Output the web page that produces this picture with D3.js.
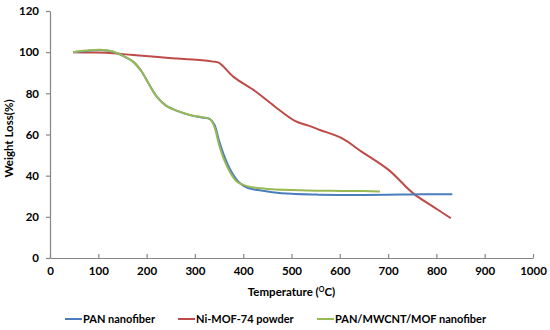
<!DOCTYPE html>
<html>
<head>
<meta charset="utf-8">
<script src="https://cdn.jsdelivr.net/npm/d3@7"></script>
<style>
  body { margin: 0; background: #fff; }
  text { font-family: Lato, "Open Sans", sans-serif; font-weight: bold; fill: #000; }
</style>
</head>
<body>
<script>
// series (temperature °C, weight %)
const panTemp = [48, 75, 103, 130, 150, 172, 190, 200, 221, 241, 262, 290, 315, 331, 340, 350, 360, 373, 385, 395, 410, 430, 460, 500, 550, 600, 650, 700, 750, 800, 833]
const panWeight = [100, 100.6, 101, 100.2, 98.3, 95.4, 90.5, 86.5, 78.4, 73.9, 71.6, 69.4, 68.3, 67.5, 65, 57, 50, 43, 38.5, 36, 34, 33, 32, 31.2, 30.8, 30.6, 30.6, 30.7, 30.9, 31, 31]

const mofTemp = [48, 80, 117, 172, 241, 310, 338, 350, 380, 425, 466, 507, 535, 559, 604, 645, 701, 752, 793, 830]
const mofWeight = [100, 99.8, 99.7, 98.6, 97.3, 96.2, 95.4, 94.8, 88, 81, 73.5, 66.6, 64.3, 62.2, 58.2, 51.7, 42.8, 31.4, 25, 19.3]

const compTemp = [48, 75, 103, 130, 150, 172, 190, 200, 221, 241, 262, 290, 315, 331, 340, 350, 360, 373, 385, 395, 410, 430, 460, 500, 550, 600, 650, 683]
const compWeight = [100, 100.8, 101.2, 100.3, 98.4, 95.4, 90.5, 86.5, 78.4, 73.9, 71.6, 69.5, 68.4, 67.5, 64, 55, 48, 41.5, 37.5, 36, 34.8, 34, 33.4, 33, 32.7, 32.6, 32.5, 32.3]

const seriesNames = ['PAN nanofiber', 'Ni-MOF-74 powder', 'PAN/MWCNT/MOF nanofiber']
const seriesColors = ['#4a7ebb', '#be4b48', '#98b954']
const xTicks = [0, 100, 200, 300, 400, 500, 600, 700, 800, 900, 1000]
const yTicks = [0, 20, 40, 60, 80, 100, 120]

const width = 550
const height = 330
const margin = {left: 50, right: 17, top: 11, bottom: 72}

const svg = d3.select('body').append('svg')
    .attr('width', width)
    .attr('height', height)

const x = d3.scaleLinear().domain([0, 1000]).range([margin.left, width - margin.right])
const y = d3.scaleLinear().domain([0, 120]).range([height - margin.bottom, margin.top])

const zip = (ts, ws) => ts.map((t, i) => ({t: t, w: ws[i]}))
const series = [
    zip(panTemp, panWeight),
    zip(mofTemp, mofWeight),
    zip(compTemp, compWeight)
]

// axes
svg.append('g')
    .attr('transform', `translate(0, ${y(0)})`)
    .call(d3.axisBottom(x).tickValues(xTicks).tickFormat(d3.format('d'))
        .tickSizeInner(-4).tickSizeOuter(0).tickPadding(9))
svg.append('g')
    .attr('transform', `translate(${x(0)}, 0)`)
    .call(d3.axisLeft(y).tickValues(yTicks).tickSizeInner(4).tickSizeOuter(0).tickPadding(7))

svg.selectAll('.domain, .tick line').attr('stroke', '#868686').attr('stroke-width', 1.2)
svg.selectAll('.tick text').attr('font-size', 11.5).attr('fill', '#000')
    .style('font-family', 'Lato, sans-serif').style('font-weight', 'bold')

// lines
const line = d3.line()
    .x(d => x(d.t))
    .y(d => y(d.w))
    .curve(d3.curveCatmullRom.alpha(0.5))

// draw in order: red, blue, green on top
const order = [1, 0, 2]
order.forEach(i => {
    svg.append('path')
        .datum(series[i])
        .attr('fill', 'none')
        .attr('stroke', seriesColors[i])
        .attr('stroke-width', 2)
        .attr('d', line)
})

// axis titles
const xTitle = svg.append('text')
    .attr('x', (x(0) + x(1000)) / 2)
    .attr('y', 296)
    .attr('text-anchor', 'middle')
    .attr('font-size', 11.5)
xTitle.append('tspan').text('Temperature (')
xTitle.append('tspan').text('O').attr('font-size', 7).attr('dy', -4)
xTitle.append('tspan').text('C)').attr('dy', 4)

svg.append('text')
    .attr('transform', `translate(13, ${(y(0) + y(120)) / 2 + 4}) rotate(-90)`)
    .attr('text-anchor', 'middle')
    .attr('font-size', 11.5)
    .text('Weight Loss(%)')

// legend
const legendX = [65, 178, 317]
const legend = svg.selectAll('.legend')
    .data(seriesNames)
    .enter()
    .append('g')
    .attr('transform', (d, i) => `translate(${legendX[i]}, 319)`)
legend.append('line')
    .attr('x1', 0).attr('x2', 17)
    .attr('stroke', (d, i) => seriesColors[i])
    .attr('stroke-width', 2)
legend.append('text')
    .attr('x', 18)
    .attr('y', 4)
    .attr('font-size', 11)
    .text(d => d)
</script>
</body>
</html>
